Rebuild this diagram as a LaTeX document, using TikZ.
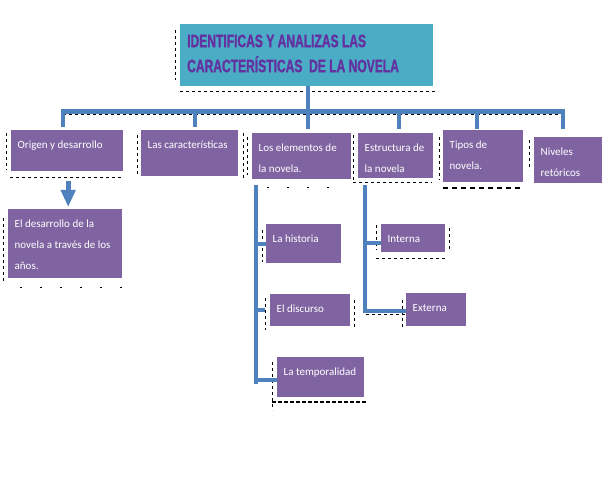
\documentclass[tikz,border=0pt]{standalone}
\usepackage{fontspec}
\setmainfont{Carlito}
\newfontfamily\titlefont[FakeStretch=0.67, FakeBold=1.2]{Liberation Sans}
\usetikzlibrary{arrows.meta}
\definecolor{titleteal}{HTML}{4BACC6}
\definecolor{boxpurple}{HTML}{8064A2}
\definecolor{linkblue}{HTML}{4F81BD}
\definecolor{titleink}{HTML}{6432A0}
% text block inside a box: width, height, text
\newcommand{\boxtxt}[3]{\parbox[t][#2][t]{#1}{\raggedright\rule{0pt}{12pt}#3}}
\tikzset{
  box/.style={fill=boxpurple, text=white, anchor=north west, inner xsep=6.5pt,
    inner ysep=6pt, font=\fontsize{11}{21}\selectfont},
  link/.style={draw=linkblue, line width=4pt},
  ghost/.style={black, line width=1pt, dash pattern=on 3pt off 3pt}
}
\begin{document}
\begin{tikzpicture}[x=1pt, y=-1pt]
  \useasboundingbox (0,0) rectangle (609,494);

  % dashed traces round the boxes
  \foreach \xa/\ya/\xb/\yb in {175/30/175/80, 180/92/437/92, 63/115/563/115,
      6/133/6/170, 10/178/123/178, 137/135/137/177, 247/137/247/175,
      3/218/3/282, 243/133/243/178, 353/135/353/180, 353/183/432/183,
      439/137/439/180, 529/140/529/170, 262/230/262/262, 376/225/376/250,
      449/228/449/250, 376/258/446/258, 265/298/265/330, 354/300/354/330,
      402/300/402/330, 366/314/405/314, 272/362/272/410} {
    \draw[ghost] (\xa,\ya) -- (\xb,\yb);
  }
  \draw[ghost, dash pattern=on 2pt off 18pt] (20,287) -- (123,287);
  \draw[ghost, dash pattern=on 2pt off 18pt] (267,188) -- (335,188);
  \draw[ghost, line width=2pt, dash pattern=on 5pt off 4pt] (443,188) -- (520,188);
  \draw[ghost, line width=2pt, dash pattern=on 4pt off 2pt] (272,402) -- (367,402);

  % title
  \node[fill=titleteal, anchor=north west, minimum width=253pt, minimum height=62pt,
    inner xsep=7pt, inner ysep=0pt, text=titleink, align=left]
    (title) at (180,24) {\parbox[t][62pt][t]{239pt}{\titlefont\bfseries\fontsize{18}{25}\selectfont
      \rule{0pt}{23pt}IDENTIFICAS Y ANALIZAS LAS\\CARACTERÍSTICAS~ DE LA NOVELA}};

  % first row
  \node[box] (origin) at (11,130) {\boxtxt{99pt}{29pt}{Origen y desarrollo}};
  \node[box] (caract) at (141,130) {\boxtxt{84pt}{34pt}{Las características}};
  \node[box] (elementos) at (252,133) {\boxtxt{86pt}{34pt}{Los elementos de\\la novela.}};
  \node[box] (estructura) at (358,133) {\boxtxt{62pt}{33pt}{Estructura de\\la novela}};
  \node[box] (tipos) at (443,130) {\boxtxt{67pt}{40pt}{Tipos de\\novela.}};
  \node[box] (niveles) at (534,137) {\boxtxt{55pt}{34pt}{Niveles\\retóricos}};

  % lower boxes
  \node[box] (desarrollo) at (8,209) {\boxtxt{101pt}{57pt}{El desarrollo de la\\novela a través de los\\años.}};
  \node[box] (historia) at (266,224) {\boxtxt{62pt}{27pt}{La historia}};
  \node[box] (discurso) at (270,294) {\boxtxt{67pt}{20pt}{El discurso}};
  \node[box] (temporal) at (277,357) {\boxtxt{74pt}{28pt}{La temporalidad}};
  \node[box] (interna) at (381,224) {\boxtxt{51pt}{16pt}{Interna}};
  \node[box] (externa) at (406,293) {\boxtxt{47pt}{21pt}{Externa}};

  % main bar
  \coordinate (barL) at (63,112);
  \coordinate (barR) at (563,112);
  \draw[link] ([xshift=1.5pt]title.south) -- ([xshift=1.5pt]title.south |- barL);
  \draw[link, line width=5pt] ([xshift=-2pt]barL) -- ([xshift=2pt]barR);
  \foreach \b/\dx/\gap in {origin/-4/3, caract/5.5/3, elementos/6.5/4,
      estructura/3.5/4, tipos/-6/1, niveles/-5/8} {
    \draw[link, shorten >=\gap pt] ([xshift=\dx pt]\b.north |- barL) -- ([xshift=\dx pt]\b.north);
  }

  % arrow to the history box
  \draw[link, line width=5pt, -{Triangle[width=14pt, length=17pt]}, shorten <=10pt, shorten >=2pt]
    ([xshift=1pt]origin.south) -- ([xshift=1pt]origin.south |- desarrollo.north);

  % elements branch
  \coordinate (elTop) at ([xshift=4pt, yshift=-6pt]elementos.south west);
  \draw[link] (elTop) -- ([yshift=-7pt]elTop |- temporal.west);
  \draw[link] (elTop |- historia.west) -- (historia.west);
  \draw[link, shorten >=5pt] (elTop |- discurso.west) -- (discurso.west);
  \draw[link] ([yshift=-3pt]elTop |- temporal.west) -- ([yshift=-3pt]temporal.west);

  % structure branch
  \coordinate (esTop) at ([xshift=7pt, yshift=-7pt]estructura.south west);
  \draw[link] (esTop) |- ([yshift=-1pt]externa.west);
  \draw[link] ([yshift=-5pt]esTop |- interna.west) -- ([yshift=-5pt]interna.west);
\end{tikzpicture}
\end{document}
